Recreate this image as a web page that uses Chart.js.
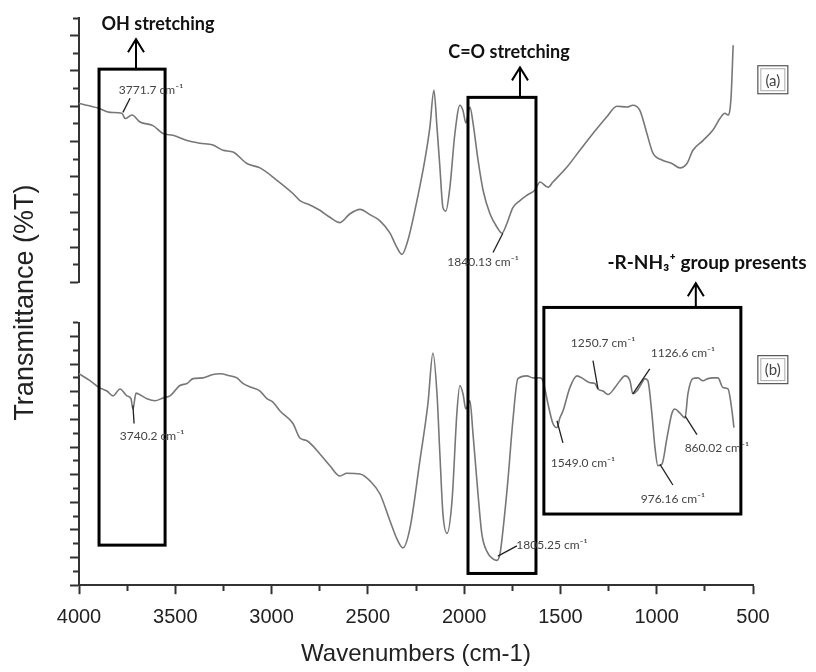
<!DOCTYPE html>
<html>
<head>
<meta charset="utf-8">
<title>FTIR spectra (a) and (b)</title>
<script src="https://cdn.jsdelivr.net/npm/chart.js@4.4.1/dist/chart.umd.min.js"></script>
<style>
  html, body { margin: 0; padding: 0; background: #fff; }
  #wrap { width: 816px; height: 672px; }
</style>
</head>
<body>
<div id="wrap"><canvas id="ftir" width="816" height="672"></canvas></div>
<script>
// spectrum (a): wavenumber (cm-1) and transmittance
const waveA = [4000, 3901, 3839, 3777, 3761, 3725, 3683, 3616, 3564, 3512, 3439, 3372, 3304, 3252, 3200, 3128,
  3060, 2972, 2889, 2853, 2801, 2749, 2697, 2645, 2593, 2541, 2489, 2437, 2385, 2354, 2323, 2292, 2245, 2204,
  2178, 2157, 2141, 2126, 2110, 2095, 2074, 2048, 2022, 2006, 1991, 1970, 1954, 1928, 1902, 1866, 1830, 1804,
  1778, 1747, 1710, 1674, 1632, 1606, 1565, 1539, 1466, 1399, 1331, 1259, 1207, 1155, 1124, 1087, 1051, 1020,
  973, 921, 879, 843, 812, 760, 708, 672, 646, 630, 614, 603];
const transA = [20.3, 19.8, 19.3, 19.2, 18.6, 19.0, 18.2, 17.8, 16.9, 16.7, 16.1, 15.8, 15.6, 15.0, 14.8, 13.5,
  13.0, 11.6, 10.1, 9.3, 8.8, 8.2, 7.4, 6.8, 7.8, 8.3, 7.7, 7.0, 5.6, 4.2, 3.2, 4.8, 9.3, 13.9,
  17.6, 21.8, 17.6, 13.1, 8.5, 8.1, 10.8, 16.9, 20.1, 19.5, 18.1, 19.9, 18.1, 13.9, 10.5, 7.8, 6.3, 5.6,
  6.7, 8.5, 9.3, 9.9, 10.5, 11.4, 10.8, 11.4, 13.1, 15.0, 16.9, 18.8, 20.0, 19.9, 20.1, 19.5, 16.9, 14.7,
  13.9, 13.5, 13.0, 13.5, 15.0, 16.1, 17.3, 18.6, 19.2, 19.0, 21.0, 26.9];

// spectrum (b)
const waveB = [4000, 3943, 3896, 3855, 3823, 3787, 3751, 3730, 3720, 3704, 3673, 3647, 3605, 3564, 3528, 3476,
  3439, 3408, 3356, 3304, 3268, 3216, 3180, 3149, 3102, 3060, 3024, 2993, 2956, 2889, 2853, 2816, 2749, 2697,
  2645, 2609, 2541, 2489, 2437, 2385, 2344, 2318, 2281, 2230, 2188, 2162, 2141, 2126, 2110, 2089, 2063, 2037,
  2022, 2006, 1991, 1970, 1954, 1928, 1908, 1882, 1850, 1830, 1814, 1799, 1773, 1747, 1721, 1674, 1643, 1606,
  1591, 1565, 1539, 1518, 1503, 1487, 1451, 1414, 1383, 1347, 1321, 1305, 1279, 1253, 1217, 1191, 1165, 1139,
  1124, 1103, 1077, 1061, 1046, 1025, 1009, 994, 973, 947, 921, 906, 879, 853, 838, 812, 786, 760, 734, 708,
  682, 656, 630, 609, 599];
const transB = [30.6, 29.6, 28.6, 28.1, 27.4, 28.4, 27.4, 27.0, 25.5, 27.8, 27.4, 27.0, 26.7, 27.1, 27.4, 28.9,
  29.2, 29.9, 30.0, 30.5, 30.6, 30.3, 30.0, 29.2, 28.6, 28.1, 27.0, 26.5, 25.2, 23.4, 21.3, 20.9, 19.0, 17.3,
  15.8, 16.2, 16.1, 15.1, 13.2, 9.3, 6.4, 5.4, 8.3, 18.0, 26.3, 33.6, 27.7, 19.0, 10.3, 7.5, 12.2, 25.2,
  28.9, 27.7, 25.5, 26.7, 21.9, 13.2, 7.4, 4.9, 3.8, 3.6, 4.5, 7.8, 15.1, 23.8, 29.9, 30.3, 30.0, 30.0,
  29.6, 26.3, 23.4, 22.8, 24.2, 25.2, 28.6, 30.3, 29.9, 29.3, 29.2, 28.4, 28.1, 27.6, 28.6, 29.6, 30.3, 29.6,
  27.7, 28.1, 29.3, 29.9, 29.6, 24.8, 19.9, 17.3, 17.5, 21.3, 24.9, 25.5, 24.9, 24.2, 27.7, 29.9, 30.0, 29.6, 29.9, 30.0,
  30.0, 28.6, 28.4, 25.2, 22.8];

const xTickValues = [4000, 3500, 3000, 2500, 2000, 1500, 1000, 500];

// annotations, placed in wavenumber / axis units
const frames = [
  { left: 3896, right: 3553, top: [24.2, 'ya'], bottom: [5.8, 'yb'] },
  { left: 1980, right: 1627, top: [21.0, 'ya'], bottom: [1.7, 'yb'] },
  { left: 1586, right: 563, top: [40.2, 'yb'], bottom: [10.3, 'yb'] }
];
const arrows = [
  { x: 3704, axis: 'ya', from: 24.2, to: 27.6 },
  { x: 1710, axis: 'ya', from: 21.0, to: 24.4 },
  { x: 797, axis: 'yb', from: 40.2, to: 43.7 }
];
const headings = [
  { text: 'OH stretching', x: 3590, y: 29.3, axis: 'ya', size: 18 },
  { text: 'C=O stretching', x: 1767, y: 26.1, axis: 'ya', size: 18 },
  { text: '-R-NH₃⁺ group presents', x: 739, y: 46.6, axis: 'yb', size: 19 }
];
const peakNotes = [
  { text: '3771.7 cm⁻¹', x: 3626, y: 21.8, axis: 'ya', from: [3772, 19.3], to: [3735, 20.9] },
  { text: '1840.13 cm⁻¹', x: 1902, y: 2.3, axis: 'ya', from: [1850, 3.4], to: [1799, 5.6] },
  { text: '3740.2 cm⁻¹', x: 3621, y: 21.6, axis: 'yb', from: [3720, 26.0], to: [3714, 23.4] },
  { text: '1805.25 cm⁻¹', x: 1544, y: 5.8, axis: 'yb', from: [1825, 4.2], to: [1726, 5.7] },
  { text: '1250.7 cm⁻¹', x: 1279, y: 35.1, axis: 'yb', from: [1331, 32.5], to: [1305, 28.4] },
  { text: '1126.6 cm⁻¹', x: 864, y: 33.6, axis: 'yb', from: [1036, 31.3], to: [1124, 27.7] },
  { text: '1549.0 cm⁻¹', x: 1383, y: 17.7, axis: 'yb', from: [1518, 23.8], to: [1487, 20.6] },
  { text: '976.16 cm⁻¹', x: 916, y: 12.5, axis: 'yb', from: [983, 17.5], to: [916, 14.5] },
  { text: '860.02 cm⁻¹', x: 688, y: 19.9, axis: 'yb', from: [853, 24.5], to: [791, 21.8] }
];
const panelTags = [
  { text: '(a)', x: 397, y: 23.0, axis: 'ya' },
  { text: '(b)', x: 397, y: 31.2, axis: 'yb' }
];

const sansFont = "'Liberation Sans', Arial, sans-serif";
const noteFont = "Lato, 'Liberation Sans', sans-serif";
const axisColor = '#333';

const annotate = {
  id: 'annotate',
  afterDatasetsDraw(chart) {
    const { ctx, scales } = chart;
    const px = w => scales.x.getPixelForValue(w);
    const py = (v, axis) => scales[axis].getPixelForValue(v);
    ctx.save();

    // black frames
    ctx.strokeStyle = '#000';
    ctx.lineWidth = 3;
    frames.forEach(f => {
      const x0 = px(f.left), x1 = px(f.right);
      const y0 = py(f.top[0], f.top[1]), y1 = py(f.bottom[0], f.bottom[1]);
      ctx.strokeRect(x0, y0, x1 - x0, y1 - y0);
    });

    // open arrows
    ctx.lineWidth = 2;
    arrows.forEach(a => {
      const x = px(a.x), y0 = py(a.from, a.axis), y1 = py(a.to, a.axis);
      ctx.beginPath();
      ctx.moveTo(x, y0);
      ctx.lineTo(x, y1);
      ctx.moveTo(x - 8, y1 + 13);
      ctx.lineTo(x, y1);
      ctx.lineTo(x + 8, y1 + 13);
      ctx.stroke();
    });

    ctx.textAlign = 'center';
    ctx.textBaseline = 'middle';
    ctx.fillStyle = '#111';
    headings.forEach(h => {
      ctx.font = 'bold ' + h.size + 'px ' + noteFont;
      ctx.fillText(h.text, px(h.x), py(h.y, h.axis));
    });

    // peak labels with leader lines
    ctx.font = '12px ' + noteFont;
    ctx.lineWidth = 1.3;
    ctx.strokeStyle = '#222';
    ctx.fillStyle = '#444';
    peakNotes.forEach(n => {
      ctx.beginPath();
      ctx.moveTo(px(n.from[0]), py(n.from[1], n.axis));
      ctx.lineTo(px(n.to[0]), py(n.to[1], n.axis));
      ctx.stroke();
      ctx.fillText(n.text, px(n.x), py(n.y, n.axis));
    });

    // (a) / (b)
    ctx.font = '15px ' + noteFont;
    panelTags.forEach(t => {
      const x = px(t.x), y = py(t.y, t.axis);
      ctx.strokeStyle = '#555';
      ctx.lineWidth = 1.2;
      ctx.strokeRect(x - 15, y - 14, 30, 28);
      ctx.strokeStyle = '#aaa';
      ctx.lineWidth = 1;
      ctx.strokeRect(x - 12, y - 11, 24, 22);
      ctx.fillStyle = '#444';
      ctx.fillText(t.text, x, y + 1);
    });

    ctx.restore();
  }
};

// y segments: tick marks only, long on every other tick
function tickAxis(max, weight) {
  return {
    type: 'linear',
    position: 'left',
    stack: 'left',
    stackWeight: weight,
    min: 0,
    max: max,
    ticks: { display: false, stepSize: 2, maxTicksLimit: 40, font: { size: 6 } },
    grid: {
      display: true,
      drawOnChartArea: false,
      drawTicks: true,
      tickLength: 9,
      tickColor: axisColor,
      tickWidth: 2,
      tickBorderDash: c => (c.tick && c.tick.value % 4 === 0 ? [] : [0, 3, 20, 10])
    },
    border: { display: true, color: axisColor, width: 2 }
  };
}

const ctx = document.getElementById('ftir').getContext('2d');

new Chart(ctx, {
  type: 'line',
  data: {
    datasets: [
      {
        label: '(a)',
        data: waveA.map((w, i) => ({ x: w, y: transA[i] })),
        yAxisID: 'ya',
        borderColor: '#777',
        borderWidth: 1.6,
        pointRadius: 0,
        cubicInterpolationMode: 'monotone',
        fill: false
      },
      {
        label: '(b)',
        data: waveB.map((w, i) => ({ x: w, y: transB[i] })),
        yAxisID: 'yb',
        borderColor: '#777',
        borderWidth: 1.6,
        pointRadius: 0,
        cubicInterpolationMode: 'monotone',
        fill: false
      }
    ]
  },
  options: {
    responsive: false,
    animation: false,
    events: [],
    layout: { padding: { left: 8, right: 63, top: 18, bottom: 3 } },
    plugins: {
      legend: { display: false },
      tooltip: { enabled: false }
    },
    scales: {
      x: {
        type: 'linear',
        reverse: true,
        min: 500,
        max: 4000,
        ticks: {
          stepSize: 250,
          maxTicksLimit: 20,
          autoSkip: false,
          maxRotation: 0,
          padding: 11,
          color: '#222',
          font: { family: sansFont, size: 20 },
          callback: v => (xTickValues.includes(v) ? String(v) : '')
        },
        grid: {
          drawOnChartArea: false,
          tickLength: 9,
          tickColor: axisColor,
          tickWidth: 2,
          tickBorderDash: c => (c.tick && xTickValues.includes(c.tick.value) ? [] : [5, 20])
        },
        border: { color: axisColor, width: 2 },
        title: {
          display: true,
          text: 'Wavenumbers (cm-1)',
          color: '#222',
          font: { family: sansFont, size: 24 },
          padding: { top: 0, bottom: 0 }
        }
      },
      yb: tickAxis(38, 262),
      ymid: {
        type: 'linear',
        position: 'left',
        stack: 'left',
        stackWeight: 40,
        min: 0,
        max: 1,
        ticks: { display: false },
        grid: { display: false, drawTicks: false },
        border: { display: false },
        title: {
          display: true,
          text: 'Transmittance (%T)',
          color: '#222',
          font: { family: sansFont, size: 27 },
          padding: { top: 1, bottom: 37.6 }
        }
      },
      ya: tickAxis(30, 264)
    }
  },
  plugins: [annotate]
});
</script>
</body>
</html>
